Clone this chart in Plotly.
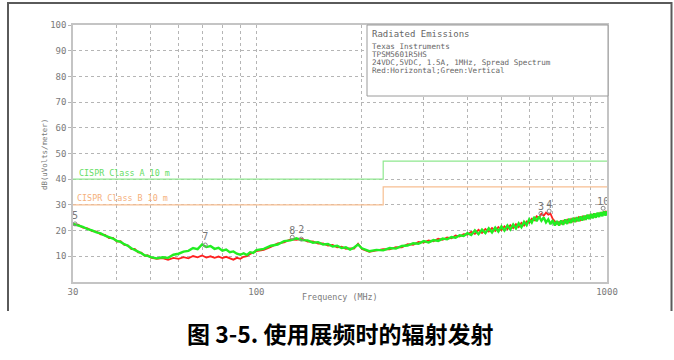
import plotly.graph_objects as go

W, H = 674, 360

# Measurement frequencies (MHz)
freq_mhz = [
    30, 31, 32, 33, 34, 35, 36, 37, 38, 39, 40, 41, 42, 43, 44, 45, 46, 47, 48, 49, 50,
    52, 54, 56, 58, 60, 62, 64, 66, 68, 70, 72, 74, 76, 78, 80, 82, 84, 86, 88, 90,
    92, 94, 96, 98, 100,
    105, 110, 115, 120, 125, 130, 135, 140, 145, 150, 155, 160, 165, 170, 175, 180,
    185, 190, 195, 200,
    210, 220, 230, 240, 250, 260, 270, 280, 290, 300, 310, 320, 330, 340, 350, 360,
    370, 380, 390, 400,
    410, 420, 430, 440, 450, 460, 470, 480, 490, 500, 510, 520, 530, 540, 550, 560,
    570, 580, 590, 600, 610, 620, 630, 640, 650, 660, 670, 680, 690, 700, 710, 720,
    730, 740, 750, 760, 770, 780, 790, 800, 810, 820, 830, 840, 850, 860, 870, 880,
    890, 900, 910, 920, 930, 940, 950, 960, 970, 980, 990, 1000,
]

# Vertical polarisation (green), dB(uV/m)
vertical_dbuv = [
    22.6, 22.0, 21.5, 20.6, 20.1, 19.3, 18.9, 18.0, 17.4, 16.9, 16.0, 15.6, 14.7, 14.1,
    13.1, 12.6, 11.8, 11.2, 10.4, 10.2, 9.7,
    9.2, 9.6, 9.4, 10.6, 11.0, 11.8, 12.1, 13.2, 12.8, 14.6, 13.6, 14.0, 12.9, 13.3,
    12.2, 12.6, 11.6, 11.9, 11.0, 10.6, 11.2, 10.5, 11.6, 11.3, 12.4,
    12.9, 14.1, 14.6, 15.9, 16.2, 17.0, 16.3, 16.2, 15.3, 15.5, 14.6, 14.8, 13.8, 14.1,
    13.2, 13.5, 12.6, 13.4, 14.6, 13.1,
    12.0, 12.5, 12.3, 13.2, 13.0, 14.0, 14.2, 15.1, 14.9, 15.9, 15.4, 16.3, 16.0, 16.9,
    16.6, 17.5, 17.2, 18.2, 17.9, 19.0,
    18.3, 20.1, 18.6, 20.4, 19.0, 20.9, 19.3, 21.2, 19.6, 21.6, 20.0, 22.0, 20.4, 22.4,
    20.8, 22.8, 21.3, 23.4, 22.1, 24.4, 23.1, 25.3, 23.7, 25.5, 23.8, 25.1, 23.2, 24.4,
    22.5, 24.0, 22.0, 23.7, 22.0, 23.9, 22.3, 24.3, 22.6, 24.6, 23.0, 24.9, 23.3, 25.2,
    23.6, 25.5, 23.9, 25.8, 24.2, 26.2, 24.5, 26.5, 24.8, 26.7, 25.0, 27.0, 25.3, 27.2,
    25.6, 27.5, 25.8, 27.6,
]

# Horizontal polarisation (red), dB(uV/m)
horizontal_dbuv = [
    22.4, 22.3, 21.2, 20.9, 19.8, 19.6, 18.5, 18.3, 17.1, 17.2, 15.7, 15.9, 14.4, 14.3,
    12.8, 12.9, 11.5, 11.4, 10.2, 10.4, 9.5,
    9.0, 9.3, 8.6, 9.4, 9.0, 9.7, 9.2, 10.1, 9.6, 10.3, 9.5, 10.0, 9.4, 9.9, 9.3, 9.8,
    9.1, 8.7, 9.4, 9.0, 9.8, 10.1, 10.9, 11.4, 12.0,
    12.5, 13.6, 15.0, 15.4, 16.6, 16.4, 16.8, 15.7, 15.8, 14.9, 15.0, 14.2, 14.4, 13.5,
    13.7, 12.9, 13.1, 13.0, 14.9, 12.8,
    11.7, 12.2, 12.8, 12.7, 13.6, 13.5, 14.7, 14.5, 15.6, 15.3, 16.2, 15.8, 16.8, 16.4,
    17.3, 17.0, 18.1, 17.7, 18.6, 18.5,
    19.5, 18.7, 20.3, 19.1, 20.6, 19.6, 21.0, 19.9, 21.4, 20.2, 21.7, 20.6, 22.1, 21.0,
    22.5, 21.4, 23.0, 22.0, 23.6, 23.0, 24.6, 24.0, 25.6, 25.0, 26.6, 25.8, 27.0, 26.2,
    26.6, 24.6, 23.6, 22.6, 23.4, 22.7, 23.8, 23.1, 24.2, 23.3, 24.5, 23.6, 24.8, 23.8,
    25.1, 24.1, 25.4, 24.4, 25.8, 24.7, 26.1, 25.0, 26.4, 25.2, 26.6, 25.6, 26.9, 25.9,
    27.2, 26.2, 27.6, 26.6,
]

# CISPR 22 limits at 10 m
limit_freq = [30, 230, 230, 1000]
class_a_limit = [40, 40, 47, 47]
class_b_limit = [30, 30, 37, 37]

# Peak markers: label, frequency, level of label, level of marker
peak_labels = ["5", "7", "8", "2", "3", "4", "10"]
peak_freq = [30.4, 71.5, 126.6, 134.3, 648, 684, 975]
peak_label_level = [25.3, 17.2, 19.6, 20.0, 28.9, 29.7, 31.0]
peak_marker_level = [22.6, 14.4, 17.4, 16.7, 26.7, 27.6, 28.7]

y_ticks = [10, 20, 30, 40, 50, 60, 70, 80, 90, 100]
x_grid = [30, 40, 50, 60, 70, 80, 90, 100, 200, 300, 400, 500, 600, 700, 800, 900, 1000]
x_tick_text = ["30" if v == 30 else "100" if v == 100 else "1000" if v == 1000 else "" for v in x_grid]

info_lines = [
    "Texas Instruments",
    "TPSM5601R5HS",
    "24VDC,5VDC, 1.5A, 1MHz, Spread Spectrum",
    "Red:Horizontal;Green:Vertical",
]

MONO = "DejaVu Sans Mono"
GRAY = "#7a7a7a"


def px(x):
    return x / W


def py(y):
    return 1 - y / H


fig = go.Figure()

fig.add_trace(go.Scatter(x=limit_freq, y=class_a_limit, mode="lines",
                         line=dict(color="#8fe88f", width=1.2), hoverinfo="skip"))
fig.add_trace(go.Scatter(x=limit_freq, y=class_b_limit, mode="lines",
                         line=dict(color="#f7bf92", width=1.2), hoverinfo="skip"))
fig.add_trace(go.Scatter(x=freq_mhz, y=horizontal_dbuv, mode="lines",
                         line=dict(color="#ff2020", width=1.8)))
fig.add_trace(go.Scatter(x=freq_mhz, y=vertical_dbuv, mode="lines",
                         line=dict(color="#22ee22", width=2.4)))
fig.add_trace(go.Scatter(x=peak_freq, y=peak_marker_level, mode="markers",
                         marker=dict(symbol="circle-open", size=4, color="#888",
                                     line=dict(width=1)), hoverinfo="skip"))
fig.add_trace(go.Scatter(x=peak_freq, y=peak_label_level, mode="text", text=peak_labels,
                         textfont=dict(family=MONO, size=10, color="#777"),
                         hoverinfo="skip"))

fig.update_layout(
    width=W, height=H, autosize=False,
    margin=dict(l=0, r=0, t=0, b=0),
    paper_bgcolor="white", plot_bgcolor="white",
    showlegend=False,
    xaxis=dict(
        type="log", range=[1.4771, 3.0], domain=[px(73), px(607)], automargin=False,
        tickmode="array", tickvals=x_grid, ticktext=x_tick_text,
        showgrid=True, gridcolor="#b5b5b5", griddash="dot", gridwidth=1,
        showline=True, mirror=True, linecolor="#c4c4c4", linewidth=1.5,
        ticks="", zeroline=False,
        tickfont=dict(family=MONO, size=9, color=GRAY),
    ),
    yaxis=dict(
        range=[0, 100], domain=[py(282), py(25)], automargin=False,
        tickmode="array", tickvals=y_ticks,
        showgrid=True, gridcolor="#b5b5b5", griddash="dot", gridwidth=1,
        showline=True, mirror=True, linecolor="#c4c4c4", linewidth=1.5,
        ticks="outside", ticklen=3, tickcolor="#b5b5b5", zeroline=False,
        tickfont=dict(family=MONO, size=9, color=GRAY),
    ),
)

shapes = [
    # surrounding frame
    dict(type="line", xref="paper", yref="paper", x0=px(7), x1=px(672), y0=py(3), y1=py(3),
         line=dict(color="#5a5a5a", width=2)),
    dict(type="line", xref="paper", yref="paper", x0=px(8), x1=px(8), y0=py(2), y1=py(311),
         line=dict(color="#5a5a5a", width=2)),
    dict(type="line", xref="paper", yref="paper", x0=px(671.5), x1=px(671.5), y0=py(2), y1=py(311),
         line=dict(color="#5a5a5a", width=2)),
    # information box
    dict(type="rect", xref="paper", yref="paper", x0=px(367), x1=px(608), y0=py(96), y1=py(25),
         fillcolor="white", line=dict(color="#9a9a9a", width=1), layer="above"),
]
fig.update_layout(shapes=shapes)

ann = []
ann.append(dict(text="Radiated Emissions", x=px(370), y=py(33.5), xref="paper", yref="paper",
                xanchor="left", yanchor="middle", showarrow=False,
                font=dict(family=MONO, size=9, color="#666")))
for i, line in enumerate(info_lines):
    ann.append(dict(text=line, x=px(370), y=py(46.5 + 8.1 * i), xref="paper", yref="paper",
                    xanchor="left", yanchor="middle", showarrow=False,
                    font=dict(family=MONO, size=7.6, color="#666")))
ann.append(dict(text="CISPR Class A 10 m", x=px(77), y=py(173), xref="paper", yref="paper",
                xanchor="left", yanchor="middle", showarrow=False,
                font=dict(family=MONO, size=8.4, color="#66dd66")))
ann.append(dict(text="CISPR Class B 10 m", x=px(75), y=py(198), xref="paper", yref="paper",
                xanchor="left", yanchor="middle", showarrow=False,
                font=dict(family=MONO, size=8.4, color="#f5b07c")))
ann.append(dict(text="Frequency (MHz)", x=px(340), y=py(297), xref="paper", yref="paper",
                xanchor="center", yanchor="middle", showarrow=False,
                font=dict(family=MONO, size=8.4, color=GRAY)))
ann.append(dict(text="dB(uVolts/meter)", x=px(44), y=py(155), xref="paper", yref="paper",
                xanchor="center", yanchor="middle", showarrow=False, textangle=-90,
                font=dict(family=MONO, size=7.4, color=GRAY)))
ann.append(dict(text="<b>图 3-5. 使用展频时的辐射发射</b>", x=px(340), y=py(333),
                xref="paper", yref="paper", xanchor="center", yanchor="middle",
                showarrow=False,
                font=dict(family="Noto Sans CJK SC, Liberation Sans", size=23, color="black")))
fig.update_layout(annotations=ann)

fig.write_html("out.html")
